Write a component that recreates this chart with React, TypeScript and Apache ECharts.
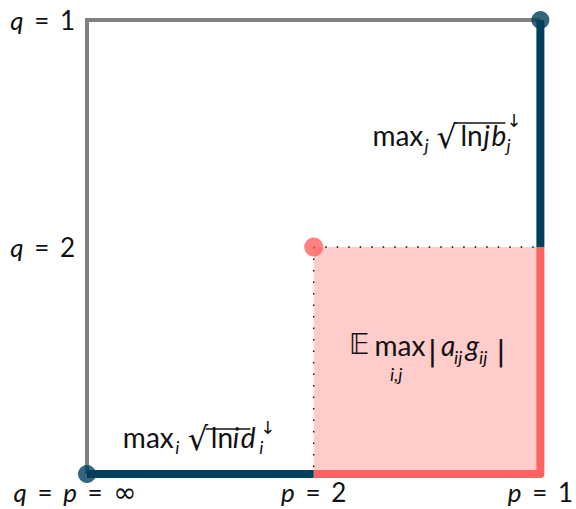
import React, { useEffect, useRef } from "react";
import * as echarts from "echarts";

// axis ticks (data coordinates: 0 = ∞, 1 = 2, 2 = 1)
const xTicks = [0, 1, 2];
const xLabels = ["q = p = ∞", "p = 2", "p = 1"];
const yTicks = [0, 1, 2];
const yLabels = ["", "q = 2", "q = 1"];

// boundary paths of the (p, q) diagram
const grayPath = [[0, 0], [0, 2], [2, 2]];
const navyRight = [[2, 2], [2, 1]];
const navyBottom = [[0, 0], [1, 0]];
const redPath = [[1, 0], [2, 0], [2, 1]];
const regionTop = [[1, 1], [2, 1]];
const regionLeft = [[1, 1], [1, 0]];
const navyDots = [[0, 0], [2, 2]];
const redDots = [[1, 1]];

const FONT = "Lato";
const INK = "#111111";
const NAVY = "#003f5c";
const RED = "#ff6361";
const PINK = "#ffcccc";
const GRAY = "#808080";

function richLabel(s: string) {
  if (!s) return "";
  return s
    .split(" ")
    .map((tok) => {
      if (/^[a-z]$/.test(tok)) return `{v|${tok}}`;
      if (tok === "∞") return `{inf|${tok}}`;
      if (tok === "=") return `{eq|${tok}}`;
      return `{t|${tok}}`;
    })
    .join("{t| }");
}

const labelRich = {
  v: { fontFamily: FONT, fontStyle: "italic", fontSize: 26, lineHeight: 22, color: INK },
  t: { fontFamily: FONT, fontSize: 26, lineHeight: 22, color: INK },
  eq: { fontFamily: FONT, fontSize: 26, lineHeight: 22, color: INK, padding: [0, 4, 0, 4] },
  inf: { fontFamily: "DejaVu Sans", fontSize: 28, lineHeight: 22, color: INK, padding: [0, 24, 0, 0] },
};

type El = any;
function txt(
  x: number,
  base: number,
  text: string,
  size: number,
  italic = false,
  family = FONT,
  lh = size
): El {
  return {
    type: "text",
    x,
    y: base - 0.3 * size,
    silent: true,
    z: 100,
    style: {
      text,
      fontFamily: family,
      fontSize: size,
      lineHeight: lh,
      fontStyle: italic ? "italic" : "normal",
      fill: INK,
      align: "left",
      verticalAlign: "middle",
    },
  };
}
function bar(x1: number, y1: number, x2: number, y2: number): El {
  return {
    type: "line",
    silent: true,
    z: 100,
    shape: { x1, y1, x2, y2 },
    style: { stroke: INK, lineWidth: 1.4 },
  };
}

export default function App() {
  const ref = useRef<HTMLDivElement>(null);
  useEffect(() => {
    if (!ref.current) return;
    const chart = echarts.init(ref.current, undefined, { renderer: "svg" });
    const lineBase = { type: "line", symbol: "none", clip: false, silent: true };
    chart.setOption({
      animation: false,
      grid: { left: 87, right: 35, top: 20, bottom: 35 },
      xAxis: {
        type: "value",
        min: 0,
        max: 2,
        interval: 1,
        axisLine: { show: false },
        axisTick: { show: false },
        splitLine: { show: false },
        axisLabel: {
          margin: 7,
          formatter: (v: number) => richLabel(xLabels[xTicks.indexOf(v)] || ""),
          rich: labelRich,
        },
      },
      yAxis: {
        type: "value",
        min: 0,
        max: 2,
        interval: 1,
        axisLine: { show: false },
        axisTick: { show: false },
        splitLine: { show: false },
        axisLabel: {
          margin: 12,
          formatter: (v: number) => richLabel(yLabels[yTicks.indexOf(v)] || ""),
          rich: labelRich,
        },
      },
      series: [
        {
          ...lineBase,
          data: regionTop,
          areaStyle: { color: PINK, opacity: 1, origin: "start" },
          lineStyle: { color: "#000", width: 1.3, type: [1.5, 10] },
          z: 1,
        },
        {
          ...lineBase,
          data: regionLeft,
          lineStyle: { color: "#000", width: 1.3, type: [1.5, 10] },
          z: 1,
        },
        {
          ...lineBase,
          data: grayPath,
          lineStyle: { color: GRAY, width: 4, cap: "butt", join: "miter" },
          z: 2,
        },
        {
          ...lineBase,
          data: redPath,
          lineStyle: { color: RED, width: 8, cap: "butt", join: "round" },
          z: 3,
        },
        {
          ...lineBase,
          data: navyRight,
          lineStyle: { color: NAVY, width: 8, cap: "butt" },
          z: 3,
        },
        {
          ...lineBase,
          data: navyBottom,
          lineStyle: { color: NAVY, width: 8, cap: "butt" },
          z: 3,
        },
        {
          type: "scatter",
          data: navyDots,
          symbolSize: 18,
          itemStyle: { color: NAVY },
          clip: false,
          silent: true,
          z: 4,
        },
        {
          type: "scatter",
          data: redDots,
          symbolSize: 19,
          itemStyle: { color: RED },
          clip: false,
          silent: true,
          z: 4,
        },
      ],
    });

    const p = (d: number[]) => chart.convertToPixel({ gridIndex: 0 }, d) as number[];
    const [a1x, a1y] = p([2, 1.5]);
    const [a2x, a2y] = p([1.5, 0.5]);
    const [a3x, a3y] = p([0.5, 0]);
    const M = 28;
    const S = 18;
    const R = 32;
    const A = 18;
    const DV = "DejaVu Sans";

    const label1: El[] = [
      txt(-168, 9.5, "max", M),
      txt(-116, 16.5, "j", S, true, FONT, 16),
      txt(-104, 13.5, "√", R, false, DV),
      bar(-86, -10.5, -35, -10.5),
      txt(-80, 9.5, "ln", M),
      txt(-57, 9.5, "j", M, true),
      txt(-49, 9.5, "b", M, true),
      txt(-34, -8, "↓", A, false, DV, 13),
      txt(-34, 16.5, "j", S, true, FONT, 16),
    ];
    const label2: El[] = [
      txt(-78, -7.5, "𝔼", M, false, DV),
      txt(-52.5, -7.5, "max", M),
      txt(-37, 18.5, "i,j", S, true, FONT, 16),
      txt(0.5, -0.5, "|", 29, false, DV),
      txt(14, -7.5, "a", M, true),
      txt(27, 1.5, "ij", S, true, FONT, 16),
      txt(38.5, -7.5, "g", M, true),
      txt(52, 1.5, "ij", S, true, FONT, 16),
      txt(69, -0.5, "|", 29, false, DV),
    ];
    const label3: El[] = [
      txt(-77.5, -29, "max", M),
      txt(-25, -22, "i", S, true, FONT, 16),
      txt(-12.5, -25, "√", R, false, DV),
      bar(5.5, -45, 50, -45),
      txt(10.5, -29, "ln", M),
      txt(32.5, -29, "i", M, true),
      txt(40.5, -29, "d", M, true),
      txt(60, -41, "↓", A, false, DV, 13),
      txt(59, -22, "i", S, true, FONT, 16),
    ];

    chart.setOption({
      graphic: [
        { type: "group", x: a1x, y: a1y, children: label1, z: 100 },
        { type: "group", x: a2x, y: a2y, children: label2, z: 100 },
        { type: "group", x: a3x, y: a3y, children: label3, z: 100 },
      ],
    });

    return () => chart.dispose();
  }, []);

  return <div ref={ref} style={{ width: 576, height: 509, position: "absolute", left: 0, top: 0 }} />;
}
